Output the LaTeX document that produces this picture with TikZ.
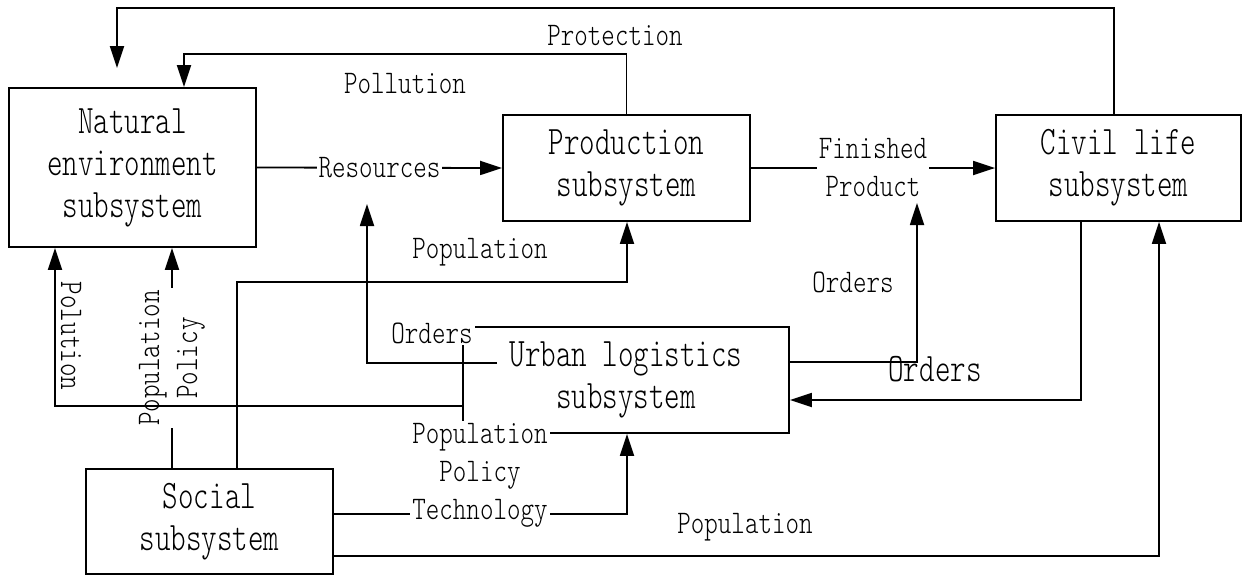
\documentclass[tikz,border=0pt]{standalone}
\usepackage{fontspec}
\usetikzlibrary{arrows.meta,calc}
\newfontfamily\reffont[FakeStretch=0.78]{lmmonolt10-regular.otf}
\newfontfamily\boxfont[FakeStretch=0.73]{lmmonolt10-regular.otf}
\begin{document}
\begin{tikzpicture}[x=1pt,y=-1pt,
  line width=1.8pt,
  box/.style={draw, line width=1.8pt, align=center, inner sep=0pt,
    font=\boxfont\fontsize{40.5}{42}\selectfont},
  bigtxt/.style={inner sep=0pt, font=\boxfont\fontsize{40.5}{42}\selectfont},
  lbl/.style={font=\reffont\fontsize{33}{38}\selectfont, align=center, inner sep=2pt},
  wl/.style={lbl, fill=white},
  arr/.style={-{Triangle[length=22pt,width=14pt]}, line width=1.8pt}
]
\useasboundingbox (0,0) rectangle (1243,576);

% boxes
\node[box, minimum width=247pt, minimum height=159pt] (nat) at (132.5,167.5) {Natural\\environment\\subsystem};
\node[box, minimum width=247pt, minimum height=106pt] (prod) at (626.5,168) {Production\\subsystem};
\node[box, minimum width=245pt, minimum height=106pt] (civ) at (1118.5,168) {Civil life\\subsystem};
\node[box, minimum width=247pt, minimum height=105pt] (soc) at (209.5,521.5) {Social\\subsystem};
\node[box, minimum width=326pt, minimum height=106pt] (urb) at (626,380) {Urban logistics\\subsystem};

% free ends
\coordinate (topend) at (117,68);
\coordinate (resin) at (367,204);
\coordinate (finin) at (917,203);
\coordinate (uo) at (497,363);

% connectors
\draw[arr] (1114,0 |- civ.north) -- (1114,8) -- (117,8) -- (topend);
\draw[arr] (prod.north) -- (626.5,54) -- (184,54) -- (184,0 |- nat.north);
\draw[arr] (nat.east) -- node[wl] (lres) {Resources} (prod.west);
\draw[arr] (prod.east) -- node[wl] (lfin) {Finished\\Product} (civ.west);
\draw[arr] (uo) -- (367,363) -- (resin);
\draw[arr] (urb.east |- 0,362) -- (917,362) -- (finin);
\draw[arr] (1081,0 |- civ.south) -- (1081,400) -- (urb.east |- 0,400);
\draw[arr] (172,0 |- soc.north) -- node[wl, rotate=90] (lpp) {Population\\Policy} (172,0 |- nat.south);
\draw[arr] (urb.west |- 0,406) -- (55,406) -- (55,0 |- nat.south);
\draw[arr] (237,0 |- soc.north) -- (237,282) -- (627,282) -- (627,0 |- prod.south);
\draw[arr] (soc.east |- 0,514) -- (627,514) -- (627,0 |- urb.south);
\draw[arr] (soc.east |- 0,556) -- (1159,556) -- (1159,0 |- civ.south);

% labels
\node[lbl] (lpoll) at (405,84) {Pollution};
\node[lbl] (lprot) at (615,36) {Protection};
\node[wl] (lord1) at (432,333) {Orders};
\node[lbl] (lord2) at (853,282) {Orders};
\node[bigtxt] (lord3) at (935,369) {Orders};
\node[lbl, rotate=-90] (lpolu) at (71,336) {Polution};
\node[lbl] (lpop1) at (480,252) {Population};
\node[lbl] (lpop3) at (745,527) {Population};
\node[wl] (lppt) at (480,475) {Population\\Policy\\Technology};
\end{tikzpicture}
\end{document}
